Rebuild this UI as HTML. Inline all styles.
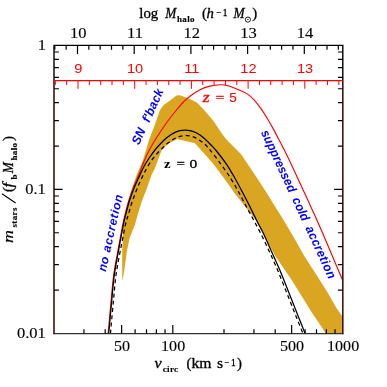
<!DOCTYPE html>
<html><head><meta charset="utf-8"><title>plot</title><style>html,body{margin:0;padding:0;background:#fff;}svg{display:block;will-change:transform;}</style></head><body>
<svg width="387" height="387" viewBox="0 0 387 387">
<rect width="387" height="387" fill="#fff"/>
<clipPath id="cp"><rect x="54.00" y="45.40" width="288.80" height="288.20"/></clipPath>
<g clip-path="url(#cp)">
<path d="M122.30 281.00 L122.20 263.80 L122.20 250.80 L123.00 237.90 L123.20 225.00 L125.30 213.80 L128.30 200.80 L132.10 187.90 L136.70 175.00 L143.00 160.00 L149.00 140.00 L155.30 123.40 L160.00 110.00 L163.00 105.80 L164.00 104.80 L170.00 100.50 L176.50 95.50 L180.00 95.30 L184.80 97.00 L190.00 99.00 L197.20 102.70 L205.00 111.00 L213.70 121.30 L222.00 133.70 L226.90 140.00 L241.30 154.50 L253.70 173.00 L266.00 191.70 L271.00 200.00 L283.40 219.80 L293.70 237.20 L304.10 255.80 L317.50 276.50 L327.90 293.00 L336.10 307.50 L342.80 317.00 L342.80 333.50 L325.80 333.50 L319.60 324.10 L311.30 311.70 L301.00 295.10 L290.70 278.60 L283.40 268.00 L275.10 255.80 L266.90 241.30 L256.20 220.70 L246.50 208.30 L240.80 201.00 L235.00 193.70 L224.80 179.30 L212.40 162.70 L201.20 150.20 L195.00 143.20 L185.70 140.90 L177.10 139.30 L168.60 143.20 L161.60 150.20 L154.70 168.80 L151.50 175.00 L147.00 187.90 L142.00 200.80 L138.00 213.80 L134.80 225.00 L129.60 237.90 L127.00 250.80 L125.20 263.80 L123.60 275.00 L122.30 281.00Z" fill="#daa520"/>
<path d="M108.10 333.50 C108.23 332.08 108.38 330.58 108.90 325.00 C109.42 319.42 110.40 308.33 111.20 300.00 C112.00 291.67 112.58 283.20 113.70 275.00 C114.82 266.80 116.40 259.13 117.90 250.80 C119.40 242.47 121.48 231.17 122.70 225.00 C123.92 218.83 124.20 217.83 125.20 213.80 C126.20 209.77 127.37 205.12 128.70 200.80 C130.03 196.48 131.53 192.20 133.20 187.90 C134.87 183.60 136.90 179.40 138.70 175.00 C140.50 170.60 142.12 165.87 144.00 161.50 C145.88 157.13 147.83 152.88 150.00 148.80 C152.17 144.72 154.50 140.97 157.00 137.00 C159.50 133.03 162.75 128.25 165.00 125.00 C167.25 121.75 168.58 120.00 170.50 117.50 C172.42 115.00 174.42 112.50 176.50 110.00 C178.58 107.50 180.75 104.78 183.00 102.50 C185.25 100.22 187.17 98.42 190.00 96.30 C192.83 94.18 196.67 91.50 200.00 89.80 C203.33 88.10 206.67 86.93 210.00 86.10 C213.33 85.27 217.00 84.87 220.00 84.80 C223.00 84.73 225.50 85.13 228.00 85.70 C230.50 86.27 232.75 87.30 235.00 88.20 C237.25 89.10 239.35 90.07 241.50 91.10 C243.65 92.13 245.82 92.95 247.90 94.40 C249.98 95.85 251.85 97.47 254.00 99.80 C256.15 102.13 258.63 105.37 260.80 108.40 C262.97 111.43 264.83 114.42 267.00 118.00 C269.17 121.58 271.63 125.93 273.80 129.90 C275.97 133.87 277.83 137.62 280.00 141.80 C282.17 145.98 284.63 150.63 286.80 155.00 C288.97 159.37 290.95 163.62 293.00 168.00 C295.05 172.38 297.10 176.97 299.10 181.30 C301.10 185.63 302.95 189.55 305.00 194.00 C307.05 198.45 309.38 203.58 311.40 208.00 C313.42 212.42 314.67 215.00 317.10 220.50 C319.53 226.00 323.18 234.42 326.00 241.00 C328.82 247.58 331.20 253.42 334.00 260.00 C336.80 266.58 341.33 277.08 342.80 280.50" fill="none" stroke="#ff0000" stroke-width="1.15"/>
<path d="M108.70 333.50 C108.83 332.08 108.98 330.58 109.50 325.00 C110.02 319.42 111.00 308.33 111.80 300.00 C112.60 291.67 113.18 283.20 114.30 275.00 C115.42 266.80 117.00 259.13 118.50 250.80 C120.00 242.47 122.07 231.17 123.30 225.00 C124.53 218.83 124.87 217.83 125.90 213.80 C126.93 209.77 128.13 205.12 129.50 200.80 C130.87 196.48 132.37 192.20 134.10 187.90 C135.83 183.60 138.17 178.73 139.90 175.00 C141.63 171.27 142.90 168.42 144.50 165.50 C146.10 162.58 147.75 160.08 149.50 157.50 C151.25 154.92 153.25 152.20 155.00 150.00 C156.75 147.80 158.17 146.25 160.00 144.30 C161.83 142.35 164.33 139.80 166.00 138.30 C167.67 136.80 168.50 136.28 170.00 135.30 C171.50 134.32 173.33 133.17 175.00 132.40 C176.67 131.63 178.33 131.08 180.00 130.70 C181.67 130.32 183.33 130.12 185.00 130.10 C186.67 130.08 188.32 130.25 190.00 130.60 C191.68 130.95 193.43 131.47 195.10 132.20 C196.77 132.93 198.27 133.78 200.00 135.00 C201.73 136.22 203.67 137.83 205.50 139.50 C207.33 141.17 209.17 143.08 211.00 145.00 C212.83 146.92 213.85 147.70 216.50 151.00 C219.15 154.30 223.80 160.22 226.90 164.80 C230.00 169.38 232.35 173.63 235.10 178.50 C237.85 183.37 240.98 189.42 243.40 194.00 C245.82 198.58 247.43 201.67 249.60 206.00 C251.77 210.33 254.13 215.50 256.40 220.00 C258.67 224.50 260.67 227.72 263.20 233.00 C265.73 238.28 268.82 245.48 271.60 251.70 C274.38 257.92 276.67 262.58 279.90 270.30 C283.13 278.02 287.83 290.05 291.00 298.00 C294.17 305.95 296.55 312.08 298.90 318.00 C301.25 323.92 304.07 330.92 305.10 333.50" fill="none" stroke="#000" stroke-width="1.25"/>
<path d="M110.50 333.50 C110.62 332.08 110.70 330.58 111.20 325.00 C111.70 319.42 112.70 308.33 113.50 300.00 C114.30 291.67 114.87 283.20 116.00 275.00 C117.13 266.80 118.73 259.13 120.30 250.80 C121.87 242.47 124.02 231.17 125.40 225.00 C126.78 218.83 127.42 217.83 128.60 213.80 C129.78 209.77 131.03 205.12 132.50 200.80 C133.97 196.48 135.62 192.20 137.40 187.90 C139.18 183.60 141.43 178.65 143.20 175.00 C144.97 171.35 146.37 168.75 148.00 166.00 C149.63 163.25 151.25 160.83 153.00 158.50 C154.75 156.17 156.75 153.92 158.50 152.00 C160.25 150.08 161.87 148.53 163.50 147.00 C165.13 145.47 166.88 143.97 168.30 142.80 C169.72 141.63 170.63 140.87 172.00 140.00 C173.37 139.13 175.17 138.22 176.50 137.60 C177.83 136.98 178.58 136.65 180.00 136.30 C181.42 135.95 183.33 135.55 185.00 135.50 C186.67 135.45 188.32 135.65 190.00 136.00 C191.68 136.35 193.43 136.85 195.10 137.60 C196.77 138.35 198.27 139.30 200.00 140.50 C201.73 141.70 203.78 143.17 205.50 144.80 C207.22 146.43 207.77 147.13 210.30 150.30 C212.83 153.47 217.25 159.05 220.70 163.80 C224.15 168.55 227.90 173.90 231.00 178.80 C234.10 183.70 236.72 188.50 239.30 193.20 C241.88 197.90 244.12 202.53 246.50 207.00 C248.88 211.47 251.18 215.50 253.60 220.00 C256.02 224.50 258.37 228.72 261.00 234.00 C263.63 239.28 266.62 245.65 269.40 251.70 C272.18 257.75 274.47 262.58 277.70 270.30 C280.93 278.02 285.63 290.05 288.80 298.00 C291.97 305.95 294.33 312.08 296.70 318.00 C299.07 323.92 301.95 330.92 303.00 333.50" fill="none" stroke="#000" stroke-width="1.25" stroke-dasharray="4 3.2"/>
</g>
<path d="M54.00 333.60 V45.40 H342.80 V333.60" fill="none" stroke="#000" stroke-width="1.4" stroke-linecap="square"/>
<path d="M54.00 333.60 H342.80" fill="none" stroke="#333" stroke-width="1.4" stroke-linecap="square"/>
<path d="M83.94 333.60 L83.94 329.20 M105.18 333.60 L105.18 329.20 M121.65 333.60 L121.65 324.90 M135.11 333.60 L135.11 329.20 M146.49 333.60 L146.49 329.20 M156.35 333.60 L156.35 329.20 M165.05 333.60 L165.05 329.20 M172.82 333.60 L172.82 324.90 M224.00 333.60 L224.00 329.20 M253.94 333.60 L253.94 329.20 M275.18 333.60 L275.18 329.20 M291.65 333.60 L291.65 324.90 M305.11 333.60 L305.11 329.20 M316.49 333.60 L316.49 329.20 M326.35 333.60 L326.35 329.20 M335.05 333.60 L335.05 329.20 M54.00 290.05 L58.90 290.05 M342.80 290.05 L337.90 290.05 M54.00 264.69 L58.90 264.69 M342.80 264.69 L337.90 264.69 M54.00 246.70 L58.90 246.70 M342.80 246.70 L337.90 246.70 M54.00 232.75 L58.90 232.75 M342.80 232.75 L337.90 232.75 M54.00 221.35 L58.90 221.35 M342.80 221.35 L337.90 221.35 M54.00 211.71 L58.90 211.71 M342.80 211.71 L337.90 211.71 M54.00 203.36 L58.90 203.36 M342.80 203.36 L337.90 203.36 M54.00 195.99 L58.90 195.99 M342.80 195.99 L337.90 195.99 M54.00 189.40 L62.70 189.40 M342.80 189.40 L334.10 189.40 M54.00 146.05 L58.90 146.05 M342.80 146.05 L337.90 146.05 M54.00 120.69 L58.90 120.69 M342.80 120.69 L337.90 120.69 M54.00 102.70 L58.90 102.70 M342.80 102.70 L337.90 102.70 M54.00 88.75 L58.90 88.75 M342.80 88.75 L337.90 88.75 M54.00 77.35 L58.90 77.35 M342.80 77.35 L337.90 77.35 M54.00 67.71 L58.90 67.71 M342.80 67.71 L337.90 67.71 M54.00 59.36 L58.90 59.36 M342.80 59.36 L337.90 59.36 M54.00 51.99 L58.90 51.99 M342.80 51.99 L337.90 51.99 M54.82 45.40 L54.82 49.80 M66.16 45.40 L66.16 49.80 M77.50 45.40 L77.50 54.10 M88.84 45.40 L88.84 49.80 M100.18 45.40 L100.18 49.80 M111.52 45.40 L111.52 49.80 M122.86 45.40 L122.86 49.80 M134.20 45.40 L134.20 54.10 M145.54 45.40 L145.54 49.80 M156.88 45.40 L156.88 49.80 M168.22 45.40 L168.22 49.80 M179.56 45.40 L179.56 49.80 M190.90 45.40 L190.90 54.10 M202.24 45.40 L202.24 49.80 M213.58 45.40 L213.58 49.80 M224.92 45.40 L224.92 49.80 M236.26 45.40 L236.26 49.80 M247.60 45.40 L247.60 54.10 M258.94 45.40 L258.94 49.80 M270.28 45.40 L270.28 49.80 M281.62 45.40 L281.62 49.80 M292.96 45.40 L292.96 49.80 M304.30 45.40 L304.30 54.10 M315.64 45.40 L315.64 49.80 M326.98 45.40 L326.98 49.80 M338.32 45.40 L338.32 49.80" fill="none" stroke="#000" stroke-width="1.2"/>
<path d="M54.00 80.60 H342.80" stroke="#ff0000" stroke-width="1.1"/>
<path d="M55.32 80.60 V85.00 M66.66 80.60 V85.00 M78.00 80.60 V88.80 M89.34 80.60 V85.00 M100.68 80.60 V85.00 M112.02 80.60 V85.00 M123.36 80.60 V85.00 M134.70 80.60 V88.80 M146.04 80.60 V85.00 M157.38 80.60 V85.00 M168.72 80.60 V85.00 M180.06 80.60 V85.00 M191.40 80.60 V88.80 M202.74 80.60 V85.00 M214.08 80.60 V85.00 M225.42 80.60 V85.00 M236.76 80.60 V85.00 M248.10 80.60 V88.80 M259.44 80.60 V85.00 M270.78 80.60 V85.00 M282.12 80.60 V85.00 M293.46 80.60 V85.00 M304.80 80.60 V88.80 M316.14 80.60 V85.00 M327.48 80.60 V85.00 M338.82 80.60 V85.00" fill="none" stroke="#ff0000" stroke-width="1"/>
<path d="M54.00 80.60 V333.60 M342.80 80.60 V333.60" stroke="#ff0000" stroke-width="1" opacity="0.3"/>
<text transform="translate(78.30 37.80) scale(1.180 1)" text-anchor="middle" font-size="14" font-family="Liberation Serif, serif" fill="#000" stroke="#000" stroke-width="0.12" >10</text>
<text transform="translate(135.00 37.80) scale(1.180 1)" text-anchor="middle" font-size="14" font-family="Liberation Serif, serif" fill="#000" stroke="#000" stroke-width="0.12" >11</text>
<text transform="translate(191.70 37.80) scale(1.180 1)" text-anchor="middle" font-size="14" font-family="Liberation Serif, serif" fill="#000" stroke="#000" stroke-width="0.12" >12</text>
<text transform="translate(248.40 37.80) scale(1.180 1)" text-anchor="middle" font-size="14" font-family="Liberation Serif, serif" fill="#000" stroke="#000" stroke-width="0.12" >13</text>
<text transform="translate(305.10 37.80) scale(1.180 1)" text-anchor="middle" font-size="14" font-family="Liberation Serif, serif" fill="#000" stroke="#000" stroke-width="0.12" >14</text>
<text transform="translate(78.30 73.40) scale(1.080 1)" text-anchor="middle" font-size="13.5" font-family="Liberation Sans, sans-serif" fill="#ff0000" stroke="#ff0000" stroke-width="0" >9</text>
<text transform="translate(135.00 73.40) scale(1.080 1)" text-anchor="middle" font-size="13.5" font-family="Liberation Sans, sans-serif" fill="#ff0000" stroke="#ff0000" stroke-width="0" >10</text>
<text transform="translate(191.70 73.40) scale(1.080 1)" text-anchor="middle" font-size="13.5" font-family="Liberation Sans, sans-serif" fill="#ff0000" stroke="#ff0000" stroke-width="0" >11</text>
<text transform="translate(248.40 73.40) scale(1.080 1)" text-anchor="middle" font-size="13.5" font-family="Liberation Sans, sans-serif" fill="#ff0000" stroke="#ff0000" stroke-width="0" >12</text>
<text transform="translate(305.10 73.40) scale(1.080 1)" text-anchor="middle" font-size="13.5" font-family="Liberation Sans, sans-serif" fill="#ff0000" stroke="#ff0000" stroke-width="0" >13</text>
<text transform="translate(121.95 350.50) scale(1.150 1)" text-anchor="middle" font-size="14" font-family="Liberation Serif, serif" fill="#000" stroke="#000" stroke-width="0.12" >50</text>
<text transform="translate(173.12 350.50) scale(1.150 1)" text-anchor="middle" font-size="14" font-family="Liberation Serif, serif" fill="#000" stroke="#000" stroke-width="0.12" >100</text>
<text transform="translate(291.95 350.50) scale(1.150 1)" text-anchor="middle" font-size="14" font-family="Liberation Serif, serif" fill="#000" stroke="#000" stroke-width="0.12" >500</text>
<text transform="translate(343.12 350.50) scale(1.150 1)" text-anchor="middle" font-size="14" font-family="Liberation Serif, serif" fill="#000" stroke="#000" stroke-width="0.12" >1000</text>
<text transform="translate(46.00 49.90) scale(1.180 1)" text-anchor="end" font-size="14" font-family="Liberation Serif, serif" fill="#000" stroke="#000" stroke-width="0.12" >1</text>
<text transform="translate(45.80 194.00) scale(1.180 1)" text-anchor="end" font-size="14" font-family="Liberation Serif, serif" fill="#000" stroke="#000" stroke-width="0.12" >0.1</text>
<text transform="translate(45.80 338.00) scale(1.180 1)" text-anchor="end" font-size="14" font-family="Liberation Serif, serif" fill="#000" stroke="#000" stroke-width="0.12" >0.01</text>
<text transform="translate(139.30 18.10) scale(1.060 1)" font-size="14" font-family="Liberation Serif, serif"  fill="#000" stroke="#000" stroke-width="0.3" letter-spacing="0" text-anchor="start" xml:space="preserve">log</text>
<text transform="translate(165.20 18.10) scale(0.950 1)" font-size="14" font-family="Liberation Serif, serif" font-style="italic" fill="#000" stroke="#000" stroke-width="0.3" letter-spacing="0" text-anchor="start" xml:space="preserve">M</text>
<text transform="translate(177.00 21.80) scale(1.000 1)" font-size="9" font-family="Liberation Serif, serif" font-weight="bold" fill="#000" stroke="#000" stroke-width="0.15" letter-spacing="0.35" text-anchor="start" xml:space="preserve">halo</text>
<text transform="translate(202.00 18.10) scale(1.060 1)" font-size="14" font-family="Liberation Serif, serif"  fill="#000" stroke="#000" stroke-width="0.3" letter-spacing="0" text-anchor="start" xml:space="preserve">(</text>
<text transform="translate(206.50 18.10) scale(1.060 1)" font-size="14" font-family="Liberation Serif, serif" font-style="italic" fill="#000" stroke="#000" stroke-width="0.3" letter-spacing="0" text-anchor="start" xml:space="preserve">h</text>
<text transform="translate(216.60 15.50) scale(0.850 1)" font-size="10" font-family="Liberation Serif, serif"  fill="#000" stroke="#000" stroke-width="0.3" letter-spacing="0" text-anchor="start" xml:space="preserve">−</text>
<text transform="translate(222.80 15.50) scale(1.000 1)" font-size="9.5" font-family="Liberation Serif, serif"  fill="#000" stroke="#000" stroke-width="0.3" letter-spacing="0" text-anchor="start" xml:space="preserve">1</text>
<text transform="translate(233.40 18.10) scale(0.950 1)" font-size="14" font-family="Liberation Serif, serif" font-style="italic" fill="#000" stroke="#000" stroke-width="0.3" letter-spacing="0" text-anchor="start" xml:space="preserve">M</text>
<circle cx="247.9" cy="19.6" r="2.6" fill="none" stroke="#000" stroke-width="0.9"/><circle cx="247.9" cy="19.6" r="0.7" fill="#000"/>
<text transform="translate(252.20 18.10) scale(1.060 1)" font-size="14" font-family="Liberation Serif, serif"  fill="#000" stroke="#000" stroke-width="0.3" letter-spacing="0" text-anchor="start" xml:space="preserve">)</text>
<text transform="translate(154.50 368.40) scale(1.150 1)" font-size="14" font-family="Liberation Serif, serif" font-style="italic" fill="#000" stroke="#000" stroke-width="0.3" letter-spacing="0" text-anchor="start" xml:space="preserve">v</text>
<text transform="translate(162.70 372.00) scale(1.000 1)" font-size="9" font-family="Liberation Serif, serif" font-weight="bold" fill="#000" stroke="#000" stroke-width="0.15" letter-spacing="0.35" text-anchor="start" xml:space="preserve">circ</text>
<text transform="translate(186.50 368.40) scale(1.060 1)" font-size="14" font-family="Liberation Serif, serif"  fill="#000" stroke="#000" stroke-width="0.3" letter-spacing="0" text-anchor="start" xml:space="preserve">(</text>
<text transform="translate(191.50 368.40) scale(1.120 1)" font-size="14" font-family="Liberation Serif, serif"  fill="#000" stroke="#000" stroke-width="0.3" letter-spacing="0" text-anchor="start" xml:space="preserve">km</text>
<text transform="translate(217.00 368.40) scale(1.120 1)" font-size="14" font-family="Liberation Serif, serif"  fill="#000" stroke="#000" stroke-width="0.3" letter-spacing="0" text-anchor="start" xml:space="preserve">s</text>
<text transform="translate(224.60 365.80) scale(0.850 1)" font-size="10" font-family="Liberation Serif, serif"  fill="#000" stroke="#000" stroke-width="0.3" letter-spacing="0" text-anchor="start" xml:space="preserve">−</text>
<text transform="translate(231.00 365.80) scale(1.000 1)" font-size="9.5" font-family="Liberation Serif, serif"  fill="#000" stroke="#000" stroke-width="0.3" letter-spacing="0" text-anchor="start" xml:space="preserve">1</text>
<text transform="translate(237.00 368.40) scale(1.060 1)" font-size="14" font-family="Liberation Serif, serif"  fill="#000" stroke="#000" stroke-width="0.3" letter-spacing="0" text-anchor="start" xml:space="preserve">)</text>
<g transform="translate(13 243) rotate(-90)">
<text transform="translate(0.00 0.00) scale(1.270 1)" font-size="14" font-family="Liberation Serif, serif" font-style="italic" fill="#000" stroke="#000" stroke-width="0.15" letter-spacing="0" text-anchor="start" xml:space="preserve">m</text>
<text transform="translate(15.50 3.80) scale(1.000 1)" font-size="9" font-family="Liberation Serif, serif" font-weight="bold" fill="#000" stroke="#000" stroke-width="0.15" letter-spacing="0.35" text-anchor="start" xml:space="preserve">stars</text>
<path d="M40 2.6 L49.2 -11" stroke="#000" stroke-width="1.15" fill="none"/>
<text transform="translate(51.00 0.00) scale(1.060 1)" font-size="14" font-family="Liberation Serif, serif"  fill="#000" stroke="#000" stroke-width="0.3" letter-spacing="0" text-anchor="start" xml:space="preserve">(</text>
<text transform="translate(55.50 0.00) scale(1.200 1)" font-size="14" font-family="Liberation Serif, serif" font-style="italic" fill="#000" stroke="#000" stroke-width="0.3" letter-spacing="0" text-anchor="start" xml:space="preserve">f</text>
<text transform="translate(63.50 3.80) scale(1.000 1)" font-size="9" font-family="Liberation Serif, serif" font-weight="bold" fill="#000" stroke="#000" stroke-width="0.15" letter-spacing="0" text-anchor="start" xml:space="preserve">b</text>
<text transform="translate(69.80 0.00) scale(0.950 1)" font-size="14" font-family="Liberation Serif, serif" font-style="italic" fill="#000" stroke="#000" stroke-width="0.3" letter-spacing="0" text-anchor="start" xml:space="preserve">M</text>
<text transform="translate(82.50 3.80) scale(1.000 1)" font-size="9" font-family="Liberation Serif, serif" font-weight="bold" fill="#000" stroke="#000" stroke-width="0.15" letter-spacing="0.35" text-anchor="start" xml:space="preserve">halo</text>
<text transform="translate(102.00 0.00) scale(1.060 1)" font-size="14" font-family="Liberation Serif, serif"  fill="#000" stroke="#000" stroke-width="0.3" letter-spacing="0" text-anchor="start" xml:space="preserve">)</text>
</g>
<text transform="translate(164.00 168.00) scale(1.100 1)" font-size="13.5" font-family="Liberation Serif, serif" font-weight="bold" fill="#000" stroke="#000" stroke-width="0" letter-spacing="0" text-anchor="start" xml:space="preserve">z</text>
<text transform="translate(176.50 168.00) scale(1.100 1)" font-size="13.5" font-family="Liberation Serif, serif"  fill="#000" stroke="#000" stroke-width="0.3" letter-spacing="0" text-anchor="start" xml:space="preserve">=</text>
<text transform="translate(189.50 168.00) scale(1.150 1)" font-size="13.5" font-family="Liberation Serif, serif"  fill="#000" stroke="#000" stroke-width="0.3" letter-spacing="0" text-anchor="start" xml:space="preserve">0</text>
<text transform="translate(202.80 102.20) scale(1.250 1)" font-size="14" font-family="Liberation Serif, serif" font-style="italic" fill="#ff0000" stroke="#ff0000" stroke-width="0.3" letter-spacing="0" text-anchor="start" xml:space="preserve">z</text>
<text transform="translate(215.60 102.20) scale(1.150 1)" font-size="13.5" font-family="Liberation Serif, serif"  fill="#ff0000" stroke="#ff0000" stroke-width="0.3" letter-spacing="0" text-anchor="start" xml:space="preserve">=</text>
<text transform="translate(229.30 102.20) scale(1.000 1)" font-size="13.5" font-family="Liberation Sans, sans-serif"  fill="#ff0000" stroke="#ff0000" stroke-width="0.1" letter-spacing="0" text-anchor="start" xml:space="preserve">5</text>
<text transform="translate(138.90 145.60) rotate(-65.30) scale(1 1.050)" font-size="12" font-family="Liberation Sans, sans-serif" font-weight="bold" font-style="italic" fill="#0000ff" word-spacing="4" letter-spacing="0.2">SN f'back</text>
<text transform="translate(105.80 272.00) rotate(-77.50) scale(1 1.000)" font-size="12" font-family="Liberation Sans, sans-serif" font-weight="bold" font-style="italic" fill="#0000ff" word-spacing="1.8" letter-spacing="0">no <tspan letter-spacing="0.65">accretion</tspan></text>
<text transform="translate(260.80 132.20) rotate(65.20) scale(1 1.050)" font-size="12" font-family="Liberation Sans, sans-serif" font-weight="bold" font-style="italic" fill="#0000ff" word-spacing="3.6" letter-spacing="0">suppressed cold <tspan letter-spacing="0.4">accretion</tspan></text>
</svg>
</body></html>
